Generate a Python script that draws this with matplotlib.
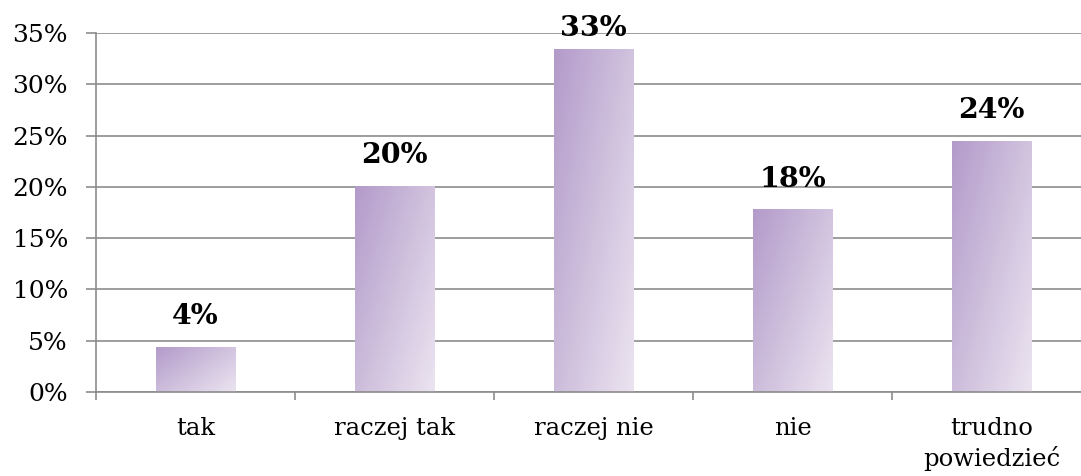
from matplotlib import pyplot as plt
from matplotlib.colors import LinearSegmentedColormap
import numpy as np

kategorie = ["tak", "raczej tak", "raczej nie", "nie", "trudno\npowiedzieć"]
wartosci = [4.4, 20.1, 33.4, 17.8, 24.5]
etykiety = ["4%", "20%", "33%", "18%", "24%"]
ticki_y = [0, 5, 10, 15, 20, 25, 30, 35]

# gradient fioletowy: ciemniejszy lewy-gorny, jasniejszy prawy-dolny
cmap = LinearSegmentedColormap.from_list("fiolet", ["#b39bca", "#ebe4f0"])
gx, gy = np.meshgrid(np.linspace(0, 1, 60), np.linspace(0, 1, 200))
gradient = 0.55 * gx + 0.45 * gy

plt.rcParams["font.family"] = ["DejaVu Serif"]
fig = plt.figure(figsize=(10.81, 4.76), dpi=100, facecolor="white")
# prawa krawedz osi wychodzi poza obraz, jak w oryginale
ax = fig.add_axes([96 / 1081, 84 / 476, 995 / 1081, 359 / 476])

x = np.arange(len(kategorie))
slupki = ax.bar(x, wartosci, width=0.4, color="none", zorder=2)
for s, w, e in zip(slupki, wartosci, etykiety):
    x0 = s.get_x()
    im = ax.imshow(gradient, cmap=cmap, aspect="auto", zorder=2,
                   extent=[x0, x0 + s.get_width(), 0, s.get_height()],
                   origin="upper")
    im.set_clip_path(s)
    # etykieta nad slupkiem, ale nie ponad obszar wykresu
    y_et = min(w + 1.6, 34.1)
    ax.text(s.get_x() + s.get_width() / 2, y_et, e, ha="center",
            va="bottom", fontsize=20.5, fontweight="bold", zorder=4)

ax.set_xlim(-0.5, len(kategorie) - 0.5)
ax.set_ylim(0, 35)
ax.set_yticks(ticki_y)
ax.set_yticklabels([f"{t}%" for t in ticki_y])
ax.set_xticks(x)
ax.set_xticklabels(kategorie, linespacing=1.3)
ax.set_xticks(np.arange(len(kategorie) + 1) - 0.5, minor=True)
ax.tick_params(axis="x", which="major", length=0, pad=18, labelsize=17.5)
ax.tick_params(axis="x", which="minor", length=5.5, color="#8c8c8c", width=1.2)
ax.tick_params(axis="y", length=7.2, color="#8c8c8c", width=1.2, labelsize=18,
               pad=13)
ax.yaxis.grid(True, color="#8c8c8c", linewidth=1.2, zorder=0)
ax.set_axisbelow(True)
for k in ["top", "right"]:
    ax.spines[k].set_visible(False)
for k in ["left", "bottom"]:
    ax.spines[k].set_color("#8c8c8c")
    ax.spines[k].set_linewidth(1.2)

plt.savefig("out.png", dpi=100, facecolor="white")
